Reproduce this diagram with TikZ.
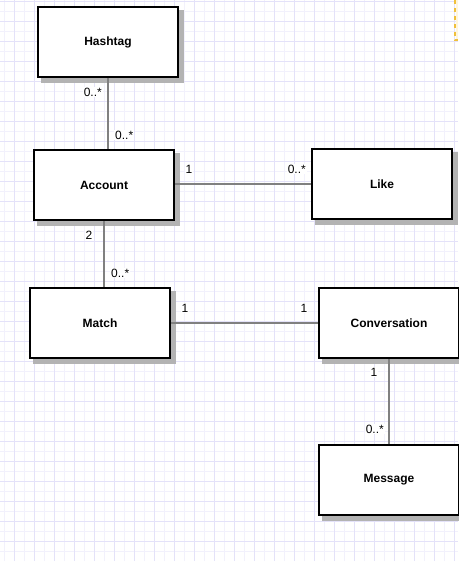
\documentclass[tikz,border=0pt]{standalone}
\usepackage{fontspec}
\setmainfont{Liberation Sans}
\usetikzlibrary{backgrounds}
\definecolor{griddark}{RGB}{228,226,249}
\definecolor{gridlight}{RGB}{242,241,252}
\definecolor{shadowgray}{RGB}{179,179,179}
\definecolor{linkgray}{RGB}{128,128,128}
\definecolor{pagemark}{RGB}{240,192,60}
\definecolor{pagetint}{RGB}{255,246,220}
\newcommand{\boxwidth}{140pt}
\newcommand{\boxheight}{70pt}
\newcommand{\gridwidth}{1pt}
\newcommand{\shadowshift}{4}
\tikzset{
  entity/.style={draw, line width=2pt, fill=white, minimum width=\boxwidth, minimum height=\boxheight,
    font=\bfseries\fontsize{12}{14}\selectfont},
  mult/.style={fill=white, inner sep=1pt, font=\fontsize{12}{14}\selectfont},
  link/.style={draw=linkgray, line width=2pt}
}

\begin{document}
\begin{tikzpicture}[x=1pt, y=-1pt]
\useasboundingbox (0,0) rectangle (458,561);
%grid
\begin{scope}[on background layer]
\fill[white] (0,0) rectangle (458,561);
\foreach \gx in {4,24,...,444} \draw[gridlight, line width=\gridwidth] (\gx,0) -- (\gx,561);
\foreach \gy in {11.7,31.7,...,551.7} \draw[gridlight, line width=\gridwidth] (0,\gy) -- (458,\gy);
\foreach \gx in {14,34,...,454} \draw[griddark, line width=\gridwidth] (\gx,0) -- (\gx,561);
\foreach \gy in {1.7,21.7,...,561.7} \draw[griddark, line width=\gridwidth] (0,\gy) -- (458,\gy);
\fill[pagetint] (455.5,0) rectangle (458,40);
\draw[pagemark, line width=2pt, dash pattern=on 4pt off 4pt] (454.5,0) -- (454.5,40) -- (458,40);
\end{scope}
%classes
\node[entity] (hashtag) at (108,42) {Hashtag};
\node[entity] (account) at (104,185) {Account};
\node[entity] (like) at (382,184) {Like};
\node[entity] (match) at (100,323) {Match};
\node[entity] (conversation) at (389,323) {Conversation};
\node[entity] (message) at (389,480) {Message};
%shadows
\begin{scope}[on background layer]
\foreach \cls in {hashtag,account,like,match,conversation,message}
  \fill[shadowgray] ([shift={(\shadowshift,\shadowshift)}]\cls.north west) rectangle ([shift={(\shadowshift+1,\shadowshift+1)}]\cls.south east);
\end{scope}
%associations
\draw[link] (hashtag.south) -- (hashtag.south |- account.north);
\draw[link] (like.west) -- (like.west -| account.east);
\draw[link] (account.south) -- (account.south |- match.north);
\draw[link] (match.east) -- (conversation.west);
\draw[link] (conversation.south) -- (message.north);
%multiplicities
\node[mult, anchor=east] (hashtagmany) at (103,92) {0..*};
\node[mult, anchor=west] (accounttagmany) at (114,135) {0..*};
\node[mult] (accountone) at (189,169) {1};
\node[mult, anchor=east] (likemany) at (307,169) {0..*};
\node[mult] (accounttwo) at (89,235) {2};
\node[mult, anchor=west] (matchmany) at (110,273) {0..*};
\node[mult] (matchone) at (185,308) {1};
\node[mult] (conversationone) at (304,308) {1};
\node[mult] (conversationbelow) at (374,372) {1};
\node[mult, anchor=east] (messagemany) at (385,429) {0..*};
\end{tikzpicture}
\end{document}
